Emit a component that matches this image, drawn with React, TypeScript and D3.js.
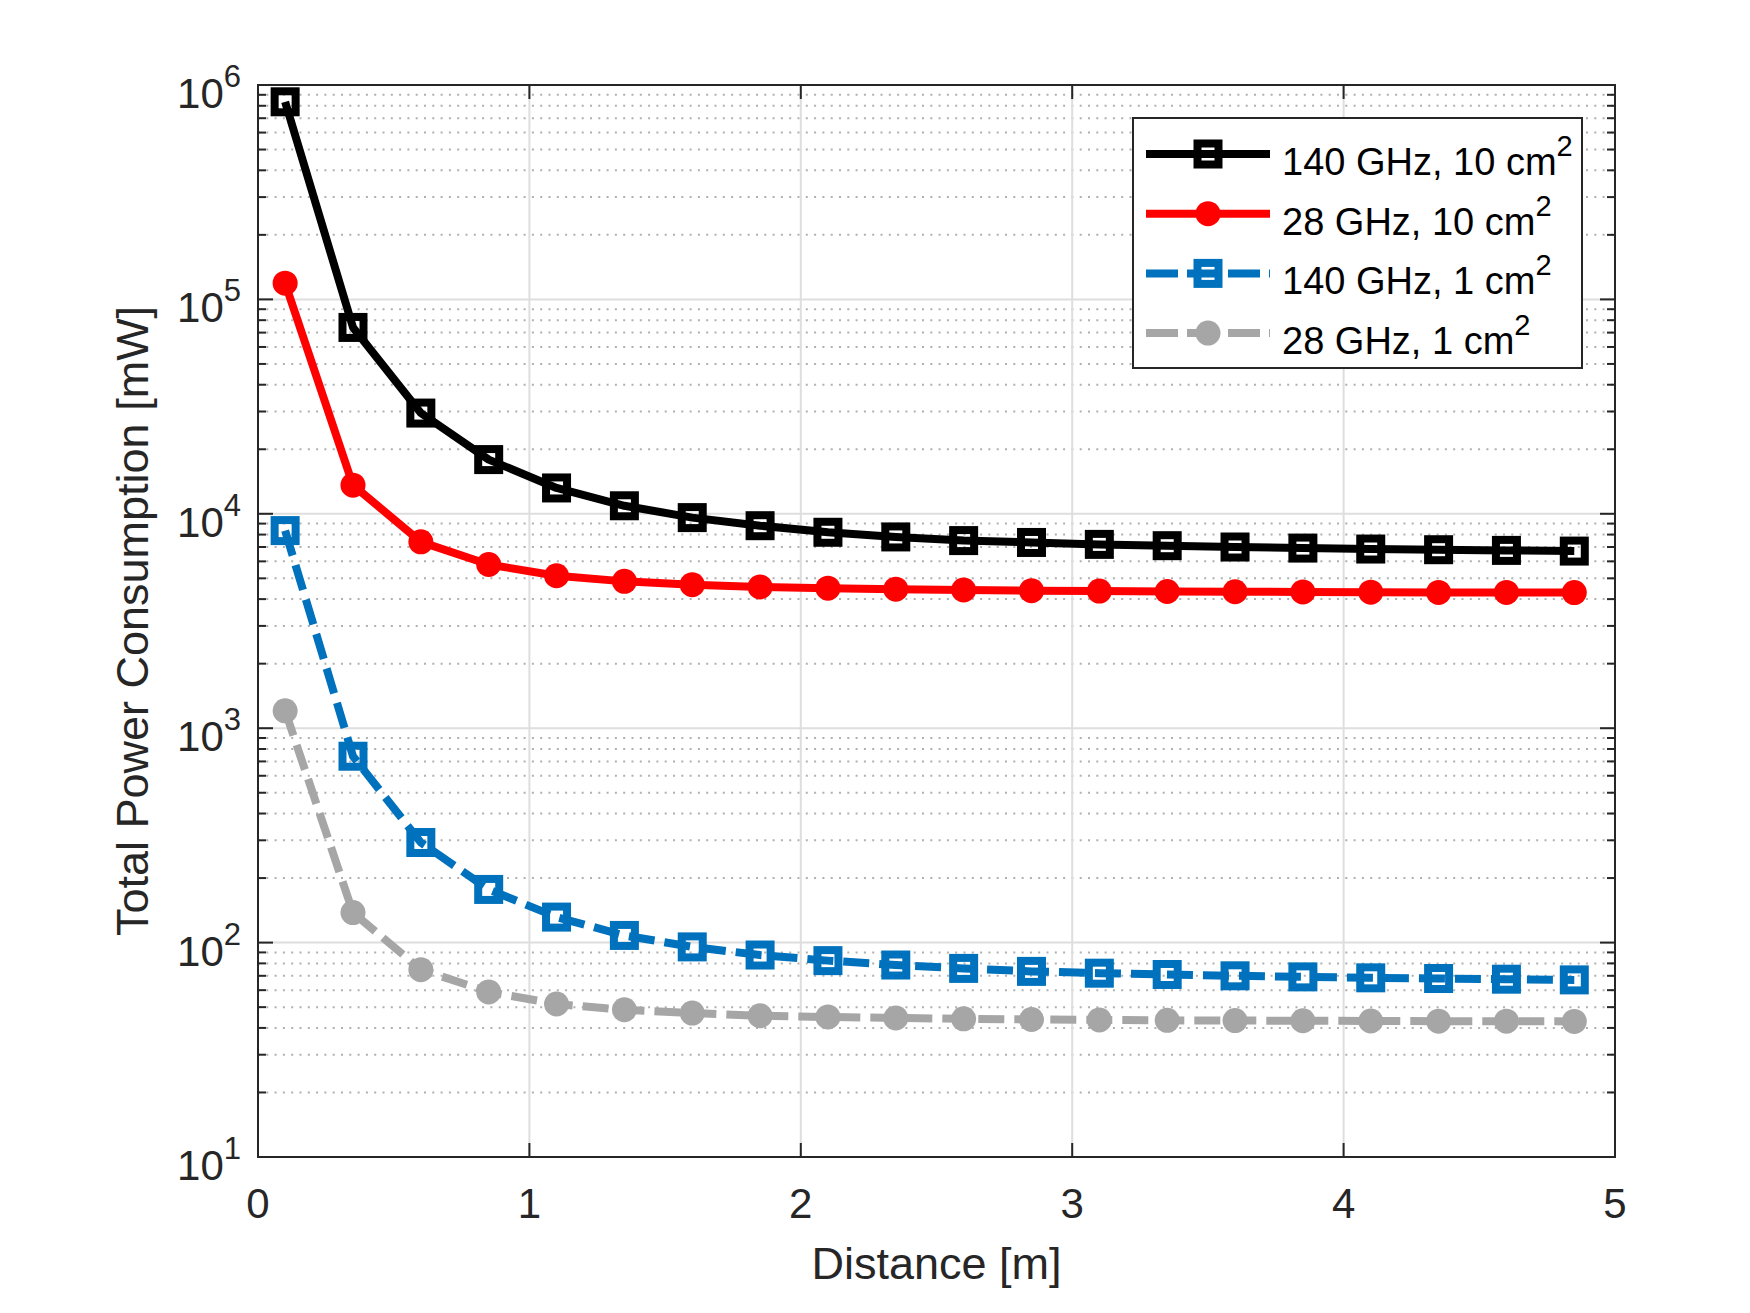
import React from "react";
import * as d3 from "d3";

const distance = [0.1, 0.35, 0.6, 0.85, 1.1, 1.35, 1.6, 1.85, 2.1, 2.35, 2.6, 2.85, 3.1, 3.35, 3.6, 3.85, 4.1, 4.35, 4.6, 4.85];
const ghz140cm10 = [835000, 74000, 29500, 17900, 13200, 10900, 9600, 8800, 8200, 7800, 7500, 7350, 7200, 7100, 7000, 6920, 6850, 6800, 6750, 6700];
const ghz28cm10 = [119000, 13600, 7400, 5800, 5140, 4840, 4670, 4560, 4500, 4450, 4410, 4380, 4360, 4340, 4330, 4320, 4310, 4300, 4300, 4290];
const ghz140cm1 = [8350, 740, 293, 177, 131.5, 108, 95.5, 87.5, 82.4, 78.6, 75.8, 73.4, 72, 71, 70, 69.2, 68.5, 68, 67.5, 67];
const ghz28cm1 = [1205, 138, 74.8, 58.9, 51.7, 48.6, 46.9, 45.6, 45, 44.5, 44.1, 43.8, 43.6, 43.4, 43.3, 43.2, 43.1, 43.0, 43.0, 42.9];

const xTicks = [0, 1, 2, 3, 4, 5];
const yExponents = [1, 2, 3, 4, 5, 6];

const series = [
  { name: "140 GHz, 10 cm", values: ghz140cm10, color: "#000000", dash: null, marker: "square" },
  { name: "28 GHz, 10 cm", values: ghz28cm10, color: "#ff0000", dash: null, marker: "circle" },
  { name: "140 GHz, 1 cm", values: ghz140cm1, color: "#0072bd", dash: "26,10", marker: "square" },
  { name: "28 GHz, 1 cm", values: ghz28cm1, color: "#a6a6a6", dash: "26,10", marker: "circle" },
];

const W = 1750, H = 1313;
const L = 258, R = 1615, T = 85, B = 1157;
const FONT = "'Liberation Sans', Arial, Helvetica, sans-serif";
const AX = "#262626";
const LW = 8;

function Marker({ type, cx, cy, color }: { type: string; cx: number; cy: number; color: string }) {
  if (type === "square") {
    const s = 21;
    return <rect x={cx - s / 2} y={cy - s / 2} width={s} height={s} fill="none" stroke={color} strokeWidth={8} />;
  }
  return <circle cx={cx} cy={cy} r={12.5} fill={color} />;
}

export default function App() {
  const x = d3.scaleLinear().domain([0, 5]).range([L, R]);
  const y = d3.scaleLog().domain([10, 1e6]).range([B, T]);
  const line = d3
    .line<number>()
    .x((_, i) => x(distance[i]))
    .y((v) => y(v));

  const minorY: number[] = [];
  for (let e = 1; e < 6; e++) for (let m = 2; m <= 9; m++) minorY.push(m * Math.pow(10, e));

  return (
    <svg width={W} height={H} style={{ position: "absolute", left: 0, top: 0, background: "#fff" }} fontFamily={FONT}>
      <rect x={0} y={0} width={W} height={H} fill="#fff" />
      {/* minor grid */}
      {minorY.map((v, i) => (
        <line key={"mg" + i} x1={L} x2={R} y1={y(v)} y2={y(v)} stroke="#b0b0b0" strokeWidth={2} strokeDasharray="2,6.3" />
      ))}
      {/* major grid */}
      {yExponents.slice(1, -1).map((e) => (
        <line key={"gy" + e} x1={L} x2={R} y1={y(Math.pow(10, e))} y2={y(Math.pow(10, e))} stroke="#dedede" strokeWidth={2} />
      ))}
      {xTicks.slice(1, -1).map((t) => (
        <line key={"gx" + t} x1={x(t)} x2={x(t)} y1={T} y2={B} stroke="#dedede" strokeWidth={2} />
      ))}
      {/* ticks */}
      {xTicks.map((t) => (
        <g key={"tx" + t}>
          <line x1={x(t)} x2={x(t)} y1={B} y2={B - 14} stroke={AX} strokeWidth={2} />
          <line x1={x(t)} x2={x(t)} y1={T} y2={T + 14} stroke={AX} strokeWidth={2} />
        </g>
      ))}
      {yExponents.map((e) => (
        <g key={"ty" + e}>
          <line x1={L} x2={L + 15} y1={y(Math.pow(10, e))} y2={y(Math.pow(10, e))} stroke={AX} strokeWidth={2} />
          <line x1={R} x2={R - 15} y1={y(Math.pow(10, e))} y2={y(Math.pow(10, e))} stroke={AX} strokeWidth={2} />
        </g>
      ))}
      {minorY.map((v, i) => (
        <g key={"mt" + i}>
          <line x1={L} x2={L + 8} y1={y(v)} y2={y(v)} stroke={AX} strokeWidth={2} />
          <line x1={R} x2={R - 8} y1={y(v)} y2={y(v)} stroke={AX} strokeWidth={2} />
        </g>
      ))}
      {/* series */}
      {series.map((s) => (
        <g key={s.name}>
          <path
            d={line(s.values) || ""}
            fill="none"
            stroke={s.color}
            strokeWidth={LW}
            strokeLinejoin="round"
            strokeDasharray={s.dash || undefined}
          />
          {s.values.map((v, i) => (
            <Marker key={i} type={s.marker} cx={x(distance[i])} cy={y(v)} color={s.color} />
          ))}
        </g>
      ))}
      {/* axes box */}
      <rect x={L} y={T} width={R - L} height={B - T} fill="none" stroke={AX} strokeWidth={2} />
      {/* tick labels */}
      {xTicks.map((t) => (
        <text key={"xl" + t} x={x(t)} y={1218} textAnchor="middle" fontSize={42} fill={AX}>
          {t}
        </text>
      ))}
      {yExponents.map((e) => (
        <text key={"yl" + e} x={241} y={y(Math.pow(10, e)) + 23} textAnchor="end" fontSize={42} fill={AX}>
          10
          <tspan dy={-21} fontSize={31}>
            {e}
          </tspan>
        </text>
      ))}
      {/* axis labels */}
      <text x={(L + R) / 2} y={1279} textAnchor="middle" fontSize={45} fill={AX}>
        Distance [m]
      </text>
      <text
        transform={`translate(148, ${(T + B) / 2}) rotate(-90)`}
        textAnchor="middle"
        fontSize={45}
        fill={AX}
      >
        Total Power Consumption [mW]
      </text>
      {/* legend */}
      <rect x={1133} y={118} width={449} height={250} fill="#fff" stroke={AX} strokeWidth={2} />
      {series.map((s, i) => {
        const ly = 154 + i * 59.7;
        return (
          <g key={"lg" + i}>
            <line x1={1146} x2={1270} y1={ly} y2={ly} stroke={s.color} strokeWidth={LW} strokeDasharray={s.dash ? "32,9" : undefined} />
            <Marker type={s.marker} cx={1208} cy={ly} color={s.color} />
            <text x={1282} y={ly + 21} fontSize={38} fill="#000">
              {s.name}
              <tspan dy={-19} fontSize={29}>
                2
              </tspan>
            </text>
          </g>
        );
      })}
    </svg>
  );
}
